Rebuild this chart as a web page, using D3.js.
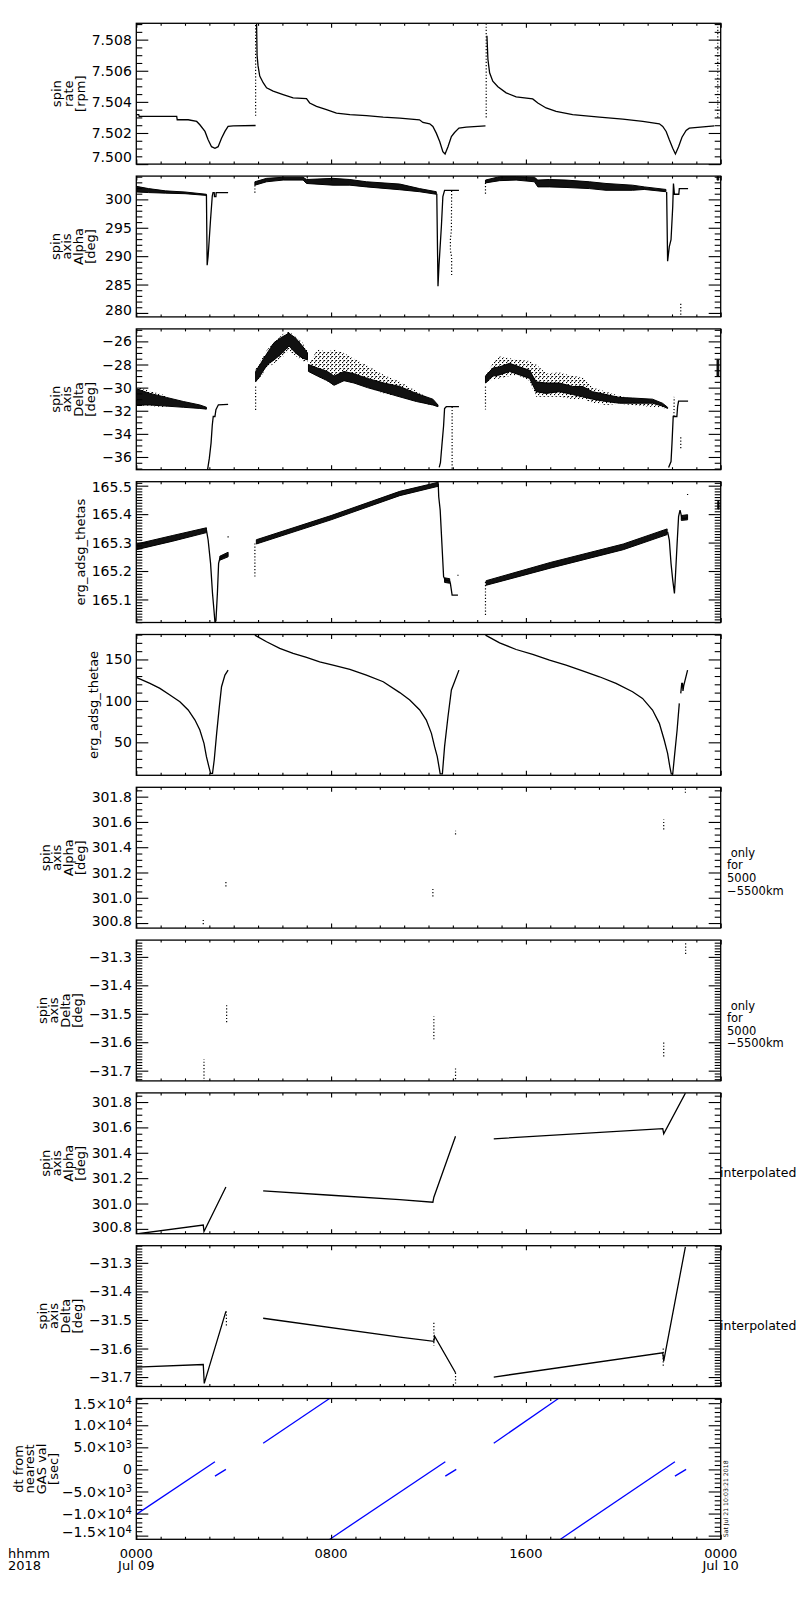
<!DOCTYPE html>
<html>
<head>
<meta charset="utf-8">
<script src="https://cdn.jsdelivr.net/npm/d3@7"></script>
<style>
  body { margin: 0; background: #fff; }
  svg { display: block; font-family: "DejaVu Sans", sans-serif; }
</style>
</head>
<body>
<div id="chart"></div>
<script>
// ---- data (time in hours since 0000 Jul 09) ----

// x axis
const hourTicks = [0, 8, 16, 24];
const hourLabels = ['0000', '0800', '1600', '0000'];
const dayLabels = ['Jul 09', '', '', 'Jul 10'];

// 1: spin rate [rpm]
const rateTicks = [7.500, 7.502, 7.504, 7.506, 7.508];
const rateLines = [
  [[0,7.50318],[0.10,7.50318],[0.12,7.50307],[1.66,7.50307],[1.68,7.50285],[2.13,7.50285],[2.48,7.50274],[2.61,7.50253],
   [2.82,7.50210],[2.95,7.50156],[3.09,7.50112],[3.23,7.50102],[3.36,7.50112],[3.50,7.50166],[3.64,7.50210],[3.77,7.50242],
   [3.98,7.50246],[4.90,7.50248]],
  [[4.94,7.50900],[4.96,7.50700],[5.00,7.50631],[5.07,7.50566],[5.21,7.50523],[5.35,7.50490],[5.62,7.50469],[6.03,7.50447],
   [6.44,7.50425],[6.99,7.50421],[7.12,7.50393],[7.40,7.50371],[7.81,7.50350],[8.22,7.50328],[8.77,7.50318],[9.45,7.50311],
   [10.14,7.50302],[10.82,7.50296],[11.63,7.50285],[11.77,7.50268],[12.05,7.50259],[12.18,7.50242],[12.32,7.50199],
   [12.46,7.50145],[12.59,7.50080],[12.68,7.50065],[12.80,7.50112],[12.94,7.50177],[13.07,7.50203],[13.25,7.50231],
   [13.55,7.50238],[14.34,7.50246]],
  [[14.40,7.50825],[14.44,7.50674],[14.51,7.50587],[14.64,7.50533],[14.85,7.50497],[15.19,7.50458],[15.60,7.50432],
   [16.28,7.50419],[16.49,7.50393],[16.83,7.50361],[17.24,7.50339],[17.92,7.50318],[19.02,7.50302],[19.98,7.50289],
   [20.80,7.50274],[21.48,7.50259],[21.62,7.50242],[21.76,7.50210],[21.89,7.50156],[22.03,7.50102],[22.14,7.50065],
   [22.27,7.50112],[22.41,7.50173],[22.58,7.50216],[22.71,7.50231],[23.74,7.50246]]
];
const rateSpikes = [[4.90,7.5031,7.5090],[14.37,7.5030,7.5090],[23.88,7.5030,7.5090]];

// 2: spin axis Alpha [deg]
const alphaTicks = [280, 285, 290, 295, 300];
const alphaBands = [
  [[0,301.3,302.3],[0.5,301.2,301.9],[1.2,301.1,301.5],[2.0,301.0,301.3],[2.88,300.7,300.9]],
  [[4.87,302.5,303.1],[5.35,303.1,303.7],[6.03,303.4,303.9],[6.85,303.4,303.9],[6.99,302.8,303.5],[8.08,302.5,303.7],
   [8.77,302.5,303.5],[9.45,302.2,303.1],[10.82,301.7,302.7],[11.63,301.35,301.9],[12.32,300.9,301.35]],
  [[14.34,302.9,303.4],[14.92,303.3,304.0],[15.60,303.4,304.0],[16.35,303.1,303.9],[16.49,302.2,303.4],[16.97,302.2,303.5],
   [17.65,302.1,303.4],[18.61,301.9,303.1],[19.29,301.6,302.8],[20.38,301.6,302.5],[20.86,301.75,302.2],[21.75,301.35,301.75]],
  [[23.85,303.4,304.0],[23.92,303.4,304.0]]
];
const alphaLines = [
  [[2.88,300.8],[2.91,288.4],[2.95,290.0],[3.05,296.5],[3.12,300.6],[3.15,301.2],[3.20,301.2],[3.21,300.5],[3.27,300.5],
   [3.28,301.2],[3.77,301.2]],
  [[12.34,301.0],[12.39,284.7],[12.43,288.3],[12.53,295.3],[12.59,300.5],[12.66,301.6],[13.25,301.6]],
  [[21.78,301.3],[21.82,289.1],[21.89,291.7],[21.96,292.9],[22.03,298.7],[22.06,302.8],[22.10,300.9],[22.28,300.9],
   [22.30,301.9],[22.66,301.9]]
];
const alphaDotted = [
  [[12.95,301.5],[12.94,294.6],[12.90,293.0],[12.90,291.0],[12.95,289.9],[12.95,286.7]],
  [[22.36,281.6],[22.36,279.3]],
  [[4.87,302.5],[4.87,300.8]],
  [[14.34,302.9],[14.34,300.9]]
];

// 3: spin axis Delta [deg]
const deltaTicks = [-36, -34, -32, -30, -28, -26];
const deltaCores = [
  [[0,-31.5,-30.1],[0.56,-31.5,-30.5],[1.24,-31.6,-30.85],[1.93,-31.7,-31.2],[2.61,-31.8,-31.5],[2.88,-31.86,-31.7]],
  [[4.90,-29.5,-28.6],[5.11,-28.9,-27.9],[5.38,-28.0,-27.0],[5.66,-27.6,-26.1],[6.00,-27.0,-25.6],[6.27,-26.4,-25.3],
   [6.54,-27.0,-25.7],[6.82,-27.45,-26.4],[7.03,-27.6,-27.0]],
  [[7.07,-28.6,-28.0],[7.44,-29.0,-28.3],[7.85,-29.4,-28.6],[8.12,-29.8,-29.0],[8.53,-29.4,-28.6],[8.94,-29.6,-28.8],
   [9.49,-30.0,-29.2],[10.17,-30.4,-29.6],[10.82,-30.8,-29.9],[11.50,-31.2,-30.5],[12.18,-31.5,-31.0],[12.39,-31.65,-31.5]],
  [[14.34,-29.6,-29.0],[14.64,-29.0,-28.3],[14.92,-28.9,-28.2],[15.33,-28.6,-27.9],[15.74,-28.9,-28.2],[16.15,-29.2,-28.5],
   [16.42,-30.35,-29.5],[16.83,-30.5,-29.6],[17.38,-30.35,-29.6],[17.92,-30.6,-29.9],[18.33,-30.8,-29.9],[18.74,-31.0,-30.35],
   [19.29,-31.2,-30.6],[19.84,-31.35,-30.85],[20.38,-31.35,-30.9],[21.20,-31.35,-31.0],[21.61,-31.6,-31.35],[21.82,-31.8,-31.7]],
  [[23.85,-29.0,-27.6],[23.92,-29.0,-27.6]]
];
const deltaClouds = [
  [[0,-31.6,-29.9],[0.56,-31.6,-30.3],[1.24,-31.7,-30.7]],
  [[4.90,-29.6,-28.4],[5.38,-28.3,-26.7],[6.00,-27.4,-25.4],[6.27,-26.8,-25.1],[6.82,-27.7,-26.1],[7.03,-27.8,-26.8]],
  [[7.07,-28.6,-28.0],[7.44,-29.0,-26.7],[7.85,-29.5,-26.9],[8.12,-29.8,-26.7],[8.53,-29.4,-27.0],[8.94,-29.6,-27.5],
   [9.49,-30.0,-28.1],[10.17,-30.5,-28.9],[10.82,-30.8,-29.5],[11.50,-31.2,-30.3],[12.39,-31.65,-31.4]],
  [[14.34,-29.6,-29.0],[14.64,-29.3,-27.9],[14.92,-29.2,-27.3],[15.33,-29.0,-27.45],[15.74,-29.0,-27.6],[16.15,-29.4,-27.7],
   [16.42,-30.8,-28.0],[16.83,-30.8,-28.75],[17.38,-30.8,-28.7],[17.92,-31.0,-29.0],[18.33,-31.0,-29.1],[18.74,-31.3,-30.0],
   [19.29,-31.5,-30.35],[19.84,-31.4,-30.7],[21.82,-31.8,-31.7]]
];
const deltaLines = [
  [[2.92,-37.2],[3.00,-36.1],[3.07,-34.8],[3.12,-33.25],[3.16,-32.5],[3.23,-32.5],[3.27,-31.9],[3.33,-31.65],[3.37,-31.5],[3.77,-31.45]],
  [[12.44,-36.9],[12.49,-36.5],[12.55,-35.0],[12.62,-33.3],[12.66,-31.8],[12.73,-31.65],[13.25,-31.65]],
  [[21.86,-36.9],[21.96,-36.4],[22.00,-34.8],[22.05,-32.5],[22.11,-32.5],[22.20,-32.5],[22.23,-31.65],[22.27,-31.16],[22.66,-31.16]]
];
const deltaDotted = [
  [[12.97,-31.65],[12.97,-37.1]],
  [[22.08,-32.5],[22.09,-30.8]],
  [[22.36,-34.3],[22.36,-35.4]],
  [[4.90,-29.9],[4.90,-32.0]],
  [[14.34,-29.9],[14.34,-31.9]]
];

// 4: erg_adsg_thetas
const thetasTicks = [165.1, 165.2, 165.3, 165.4, 165.5];
const thetasBands = [
  [[0,165.275,165.295],[1.5,165.305,165.325],[2.88,165.335,165.352]],
  [[3.43,165.238,165.252],[3.77,165.250,165.266]],
  [[4.93,165.295,165.310],[8.0,165.380,165.395],[10.82,165.465,165.480],[12.40,165.498,165.512]],
  [[12.66,165.160,165.176],[12.87,165.157,165.173]],
  [[14.37,165.150,165.166],[17.0,165.210,165.230],[20.0,165.275,165.295],[21.80,165.328,165.348]],
  [[22.38,165.378,165.395],[22.64,165.380,165.398]],
  [[23.88,165.418,165.445],[23.93,165.418,165.445]]
];
const thetasLines = [
  [[2.88,165.344],[2.95,165.309],[3.05,165.227],[3.13,165.121],[3.19,165.062],[3.23,165.020],[3.27,165.025],[3.33,165.121],
   [3.38,165.227],[3.43,165.244],[3.57,165.252],[3.77,165.258]],
  [[12.40,165.506],[12.42,165.461],[12.48,165.414],[12.55,165.297],[12.62,165.180],[12.69,165.168],[12.87,165.165],
   [12.90,165.156],[12.97,165.115],[13.21,165.115]],
  [[21.82,165.338],[21.89,165.309],[21.96,165.227],[22.03,165.168],[22.10,165.121],[22.14,165.180],[22.21,165.297],
   [22.27,165.391],[22.33,165.414],[22.41,165.385],[22.58,165.385],[22.64,165.391]]
];
const thetasDotted = [
  [[4.87,165.297],[4.87,165.174]],
  [[14.34,165.162],[14.34,165.039]],
  [[3.77,165.318],[3.77,165.322]],
  [[13.21,165.183],[13.21,165.187]],
  [[22.64,165.467],[22.64,165.471]]
];

// 5: erg_adsg_thetae
const thetaeTicks = [50, 100, 150];
const thetaeLines = [
  [[0,128.3],[0.56,121.1],[0.97,115.1],[1.38,107.0],[1.79,99.0],[2.13,89.0],[2.41,76.9],[2.61,64.9],[2.78,48.8],[2.88,32.7],
   [2.98,20.7],[3.05,12.6],[3.13,12.6],[3.20,28.7],[3.30,60.8],[3.41,93.0],[3.50,117.1],[3.64,131.1],[3.77,137.1]],
  [[4.87,179.3],[4.94,178.1],[5.35,171.3],[5.89,163.3],[6.44,157.2],[6.99,152.4],[7.53,147.2],[8.08,143.2],[8.77,138.0],
   [9.45,131.1],[10.14,123.1],[10.82,110.0],[11.23,101.0],[11.64,89.0],[11.91,76.9],[12.12,60.8],[12.25,44.8],[12.36,32.7],
   [12.43,20.7],[12.48,11.8],[12.57,11.8],[12.66,44.8],[12.80,80.9],[12.94,113.1],[13.07,123.1],[13.25,137.1]],
  [[14.34,179.3],[14.92,170.1],[15.60,162.0],[16.28,156.0],[16.97,149.2],[17.65,143.2],[18.33,136.3],[19.02,129.1],
   [19.70,121.1],[20.38,111.0],[20.79,103.0],[21.20,89.0],[21.48,72.9],[21.68,52.8],[21.82,36.7],[21.91,20.7],[21.97,11.8],
   [22.03,11.8],[22.10,32.7],[22.21,64.9],[22.30,97.0]],
  [[22.36,109.0],[22.40,121.0],[22.43,121.0],[22.45,112.0],[22.48,118.0],[22.64,137.1]]
];

// 6 and 7: values only for 5000-5500 km  [hour, low, high]
const alphaShortTicks = [300.8, 301.0, 301.2, 301.4, 301.6, 301.8];
const alphaShort = [[2.75,300.79,300.84],[3.68,301.09,301.14],[12.18,301.01,301.07],[13.11,301.50,301.53],[21.66,301.54,301.62],[22.55,301.83,301.88]];
const deltaShortTicks = [-31.7, -31.6, -31.5, -31.4, -31.3];
const deltaShort = [[2.78,-31.74,-31.66],[3.71,-31.53,-31.47],[12.22,-31.59,-31.51],[13.11,-31.73,-31.69],[21.66,-31.65,-31.60],[22.56,-31.29,-31.25]];

// 8 and 9: interpolated
const alphaInterp = [
  [[0,300.76],[2.75,300.83],[2.78,300.78],[3.68,301.13]],
  [[5.21,301.10],[8.0,301.065],[10.82,301.03],[12.18,301.01],[12.22,301.05],[13.11,301.53]],
  [[14.68,301.51],[21.62,301.59],[21.66,301.55],[22.55,301.87]]
];
const deltaInterp = [
  [[0,-31.665],[2.75,-31.656],[2.79,-31.722],[3.68,-31.470]],
  [[5.21,-31.494],[10.82,-31.560],[12.22,-31.575],[12.25,-31.557],[13.11,-31.685]],
  [[14.68,-31.700],[21.62,-31.615],[21.66,-31.644],[22.55,-31.244]]
];
const deltaInterpDotted = [
  [[13.11,-31.685],[13.11,-31.728]],
  [[12.22,-31.51],[12.22,-31.59]],
  [[3.70,-31.47],[3.70,-31.52]],
  [[21.64,-31.60],[21.64,-31.66]]
];

// 10: dt from nearest GAS val [sec]
const dtTicks = [-15000, -10000, -5000, 0, 5000, 10000, 15000];
const dtLabelBase = ['\u22121.5\u00d710', '\u22121.0\u00d710', '\u22125.0\u00d710', '0', '5.0\u00d710', '1.0\u00d710', '1.5\u00d710'];
const dtLabelExp = ['4', '4', '3', '', '3', '4', '4'];
const dtLines = [
  [[0,-10180],[3.23,1750]], [[3.23,-1520],[3.68,0]],
  [[5.21,5930],[7.95,16100]], [[7.95,-15800],[12.69,1750]], [[12.69,-1520],[13.14,0]],
  [[14.68,5930],[17.35,16100]], [[17.42,-15800],[22.12,1750]], [[22.12,-1520],[22.58,0]]
];

// ---- layout ----
const W = 800, H = 1600;
const X0 = 136.3, X1 = 720.7;
const PTOP = 23.3, PITCH = 152.8, PH = 140.8;

const minus = s => s.replace('-', '\u2212');
const panels = [
  { title: ['spin', 'rate', '[rpm]'], tx: 80, domain: [7.5000, 7.50905], ticks: rateTicks, minor: 0.0005,
    fmt: d => d3.format('.3f')(d), lines: rateLines, dotted: rateSpikes.map(d => [[d[0], d[1]], [d[0], d[2]]]) },
  { title: ['spin', 'axis', 'Alpha', '[deg]'], tx: 90, domain: [279.3, 304.1], ticks: alphaTicks, minor: 1,
    fmt: d => d3.format('d')(d), bands: alphaBands, lines: alphaLines, dotted: alphaDotted },
  { title: ['spin', 'axis', 'Delta', '[deg]'], tx: 90, domain: [-37.1, -24.92], ticks: deltaTicks, minor: 0.5,
    fmt: d => minus(d3.format('d')(d)), clouds: deltaClouds, bands: deltaCores, lines: deltaLines, dotted: deltaDotted },
  { title: ['erg_adsg_thetas'], tx: 80, domain: [165.019, 165.514], ticks: thetasTicks, minor: 0.01,
    fmt: d => d3.format('.1f')(d), bands: thetasBands, lines: thetasLines, dotted: thetasDotted },
  { title: ['erg_adsg_thetae'], tx: 93, domain: [10.2, 180.1], ticks: thetaeTicks, minor: 10,
    fmt: d => d3.format('d')(d), lines: thetaeLines },
  { title: ['spin', 'axis', 'Alpha', '[deg]'], tx: 80, domain: [300.76, 301.874], ticks: alphaShortTicks, minor: 0.05,
    fmt: d => d3.format('.1f')(d), dotted: alphaShort.map(d => [[d[0], d[1]], [d[0], d[2]]]),
    note: [' only', 'for', '5000', '\u22125500km'] },
  { title: ['spin', 'axis', 'Delta', '[deg]'], tx: 77, domain: [-31.736, -31.241], ticks: deltaShortTicks, minor: 0.01,
    fmt: d => minus(d3.format('.1f')(d)), dotted: deltaShort.map(d => [[d[0], d[1]], [d[0], d[2]]]),
    note: [' only', 'for', '5000', '\u22125500km'] },
  { title: ['spin', 'axis', 'Alpha', '[deg]'], tx: 80, domain: [300.762, 301.872], ticks: alphaShortTicks, minor: 0.05,
    fmt: d => d3.format('.1f')(d), lines: alphaInterp, note: ['interpolated'] },
  { title: ['spin', 'axis', 'Delta', '[deg]'], tx: 77, domain: [-31.733, -31.240], ticks: deltaShortTicks, minor: 0.01,
    fmt: d => minus(d3.format('.1f')(d)), lines: deltaInterp, dotted: deltaInterpDotted, note: ['interpolated'] },
  { title: ['dt from', 'nearest', 'GAS val', '[sec]'], tx: 53, domain: [-15830, 16060], ticks: dtTicks, minor: 1000,
    lines: dtLines, color: '#0000ff', dt: true }
];

const svg = d3.select('#chart').append('svg').attr('width', W).attr('height', H);
svg.append('rect').attr('width', W).attr('height', H).attr('fill', '#fff');

// speckle fill for the sparse scatter clouds
const pat = svg.append('defs').append('pattern').attr('id', 'speckle')
  .attr('patternUnits', 'userSpaceOnUse').attr('width', 4).attr('height', 4);
[[0, 0], [2, 2], [3, 0.5]].forEach(([px, py]) =>
  pat.append('rect').attr('x', px).attr('y', py).attr('width', 1.1).attr('height', 1.1).attr('fill', '#000'));

const x = d3.scaleLinear().domain([0, 24]).range([X0, X1]);
const minorHours = d3.range(0, 25, 1).filter(h => h % 8 !== 0);

panels.forEach((p, i) => {
  const top = PTOP + i * PITCH, bot = top + PH;
  const y = d3.scaleLinear().domain(p.domain).range([bot, top]);
  const g = svg.append('g');

  const clipId = 'clip' + i;
  svg.append('clipPath').attr('id', clipId).append('rect')
    .attr('x', X0).attr('y', top).attr('width', X1 - X0).attr('height', PH);
  const data = g.append('g').attr('clip-path', `url(#${clipId})`);
  const color = p.color || '#000';

  const area = d3.area().x(d => x(d[0])).y0(d => y(d[1])).y1(d => y(d[2]));
  const line = d3.line().x(d => x(d[0])).y(d => y(d[1]));

  (p.clouds || []).forEach(b => data.append('path').attr('d', area(b)).attr('fill', 'url(#speckle)'));
  (p.bands || []).forEach(b => data.append('path').attr('d', area(b)).attr('fill', '#111')
    .attr('stroke', '#000').attr('stroke-width', 1));
  (p.lines || []).forEach(l => data.append('path').attr('d', line(l)).attr('fill', 'none')
    .attr('stroke', color).attr('stroke-width', 1.3));
  (p.dotted || []).forEach(l => data.append('path').attr('d', line(l)).attr('fill', 'none')
    .attr('stroke', '#000').attr('stroke-width', 1.2).attr('stroke-dasharray', '1.2,2'));

  // frame
  g.append('rect').attr('x', X0).attr('y', top).attr('width', X1 - X0).attr('height', PH)
    .attr('fill', 'none').attr('stroke', '#000').attr('stroke-width', 1.3);

  // y ticks, pointing inward on both sides
  const [lo, hi] = p.domain;
  const minorVals = d3.range(Math.ceil(lo / p.minor - 1e-6) * p.minor, hi, p.minor)
    .filter(v => !p.ticks.some(t => Math.abs(t - v) < p.minor / 10));
  [[d3.axisLeft, X0], [d3.axisRight, X1]].forEach(([ax, px]) => {
    g.append('g').attr('transform', `translate(${px},0)`)
      .call(ax(y).tickValues(p.ticks).tickSize(-12).tickFormat(''))
      .call(s => s.select('.domain').remove());
    g.append('g').attr('transform', `translate(${px},0)`)
      .call(ax(y).tickValues(minorVals).tickSize(-6).tickFormat(''))
      .call(s => s.select('.domain').remove());
  });
  // x ticks on top and bottom
  [[d3.axisTop, top], [d3.axisBottom, bot]].forEach(([ax, py]) => {
    g.append('g').attr('transform', `translate(0,${py})`)
      .call(ax(x).tickValues(hourTicks).tickSize(-4.5).tickFormat(''))
      .call(s => s.select('.domain').remove());
    g.append('g').attr('transform', `translate(0,${py})`)
      .call(ax(x).tickValues(minorHours).tickSize(-2.5).tickFormat(''))
      .call(s => s.select('.domain').remove());
  });
  g.selectAll('.tick line').attr('stroke', '#000').attr('stroke-width', 1.1);

  // y tick labels
  p.ticks.forEach((t, k) => {
    const ty = Math.max(top + 5, Math.min(bot - 7, y(t)));
    const txt = g.append('text').attr('x', X0 - 4.5).attr('y', ty).attr('dy', '0.36em')
      .attr('text-anchor', 'end').attr('font-size', 14).attr('fill', '#000');
    if (p.dt) {
      txt.append('tspan').text(dtLabelBase[k]);
      if (dtLabelExp[k]) txt.append('tspan').attr('dy', '-0.45em').attr('font-size', 10).text(dtLabelExp[k]);
    } else {
      txt.text(p.fmt(t));
    }
  });

  // rotated axis title
  const cy = (top + bot) / 2;
  const n = p.title.length;
  p.title.forEach((s, k) => {
    const lx = p.tx - (n - 1 - k) * 11.7;
    g.append('text').attr('transform', `translate(${lx},${cy}) rotate(-90)`)
      .attr('dy', '0.36em').attr('text-anchor', 'middle').attr('font-size', 13).attr('fill', '#000').text(s);
  });

  // right-hand note
  if (p.note) {
    const multi = p.note.length > 1;
    p.note.forEach((s, k) => {
      g.append('text').attr('x', multi ? 727 : 720).attr('y', multi ? cy - 5 + k * 12.6 : cy + 9)
        .attr('dy', '0.36em').attr('font-size', multi ? 11.5 : 12.5).attr('fill', '#000')
        .attr('xml:space', 'preserve').style('white-space', 'pre').text(s);
    });
  }

  // bottom time labels
  if (i === panels.length - 1) {
    hourTicks.forEach((h, k) => {
      g.append('text').attr('x', x(h)).attr('y', bot + 14.5).attr('dy', '0.36em')
        .attr('text-anchor', 'middle').attr('font-size', 13).text(hourLabels[k]);
      if (dayLabels[k]) g.append('text').attr('x', x(h)).attr('y', bot + 26.5).attr('dy', '0.36em')
        .attr('text-anchor', 'middle').attr('font-size', 13).text(dayLabels[k]);
    });
    g.append('text').attr('x', 8).attr('y', bot + 14.5).attr('dy', '0.36em').attr('font-size', 13).text('hhmm');
    g.append('text').attr('x', 8).attr('y', bot + 26.5).attr('dy', '0.36em').attr('font-size', 13).text('2018');
    g.append('text').attr('transform', `translate(727.5,${bot - 2}) rotate(-90)`)
      .attr('font-size', 6.2).attr('fill', '#000').text('Sat Jul 21 10:03:21 2018');
  }
});
</script>
</body>
</html>
